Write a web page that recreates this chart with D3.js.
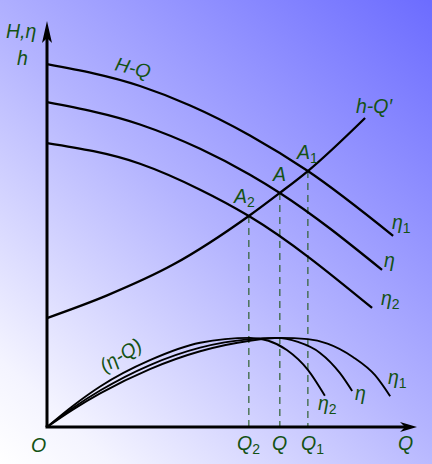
<!DOCTYPE html>
<html><head><meta charset="utf-8">
<script src="https://cdn.jsdelivr.net/npm/d3@7"></script>
<style>html,body{margin:0;padding:0;background:#fff}svg{display:block}</style>
</head><body>
<div id="chart"></div>
<script>
// Head curves H-Q at three speeds (Q, H)
const headEta1 = [[0,89.6],[25.2,84.2],[38.8,79.4],[55.0,72.0],[70.7,63.2],[93.8,47.2]];
const headEta  = [[0,80.2],[25.2,74.7],[41.5,68.7],[55.0,62.3],[63.1,57.8],[90.8,38.8]];
const headEta2 = [[0,70.1],[25.2,65.0],[41.5,58.6],[54.7,52.1],[88.1,29.4]];
// System curve h-Q'
const systemCurve = [[0,26.9],[16.3,32.5],[34.2,40.1],[54.7,52.1],[63.1,57.8],[70.7,63.2],[86.2,76.3]];
// Efficiency curves eta-Q
const effEta2 = [[0,0],[7.0,5.2],[14.4,10.0],[27.9,16.5],[41.5,20.8],[55.0,22.0],[60.0,21.3],[65.0,19.0],[70.7,14.1],[75.3,7.7]];
const effEta  = [[0,0],[7.0,4.7],[14.4,9.0],[27.9,15.3],[41.5,19.6],[55.0,21.7],[62.0,22.0],[68.0,21.0],[74.0,18.3],[79.4,13.3],[82.7,8.9]];
const effEta1 = [[0,0],[7.0,4.3],[14.4,8.3],[27.9,14.3],[41.5,18.7],[55.0,21.3],[63.1,22.0],[70.7,21.7],[76.0,20.6],[82.9,17.3],[88.9,12.8],[93.0,7.6]];
// Operating points
const opNames = ["A2","A","A1"];
const opQ = [54.7, 63.1, 70.7];
const opH = [52.1, 57.8, 63.2];
const qTickLabels = ["Q2","Q","Q1"];

const W = 432, H = 464;
const x = d3.scaleLinear().domain([0,100]).range([47,416]);
const y = d3.scaleLinear().domain([0,100]).range([427,22]);
const green = "#145214";

const svg = d3.select("#chart").append("svg").attr("width",W).attr("height",H);
const defs = svg.append("defs");
const grad = defs.append("linearGradient").attr("id","bg")
  .attr("gradientUnits","userSpaceOnUse")
  .attr("x1",0).attr("y1",H).attr("x2",W).attr("y2",0);
grad.append("stop").attr("offset","0").attr("stop-color","#ffffff");
grad.append("stop").attr("offset","0.12").attr("stop-color","#f4f4ff");
grad.append("stop").attr("offset","0.5").attr("stop-color","#b4b4ff");
grad.append("stop").attr("offset","1").attr("stop-color","#6c6cff");
svg.append("rect").attr("width",W).attr("height",H).attr("fill","url(#bg)");

const line = d3.line().x(d=>x(d[0])).y(d=>y(d[1])).curve(d3.curveMonotoneX);

// dashed drop lines
opQ.forEach((q,i)=>{
  svg.append("line").attr("x1",x(q)).attr("x2",x(q)).attr("y1",y(opH[i])).attr("y2",y(0))
    .attr("stroke","#2f5f2f").attr("stroke-width",1.2).attr("stroke-dasharray","7,5");
});

[headEta1, headEta, headEta2, systemCurve].forEach(d=>{
  svg.append("path").attr("d",line(d)).attr("fill","none").attr("stroke","#000").attr("stroke-width",2.3);
});
[effEta2, effEta, effEta1].forEach(d=>{
  svg.append("path").attr("d",line(d)).attr("fill","none").attr("stroke","#000").attr("stroke-width",1.9);
});

// axes
svg.append("line").attr("x1",x(0)).attr("y1",y(0)).attr("x2",x(0)).attr("y2",36).attr("stroke","#000").attr("stroke-width",3);
svg.append("line").attr("x1",x(0)-1.5).attr("y1",y(0)).attr("x2",406).attr("y2",y(0)).attr("stroke","#000").attr("stroke-width",3);
svg.append("path").attr("d","M47,21 L52,43 L47,38 L42,43 Z").attr("fill","#000");
svg.append("path").attr("d","M417,427 L400,432 L405,427 L400,422 Z").attr("fill","#000");

// labels
const font = "'Liberation Sans', Arial, sans-serif";
function label(txt, sub, px, py, opts={}){
  const t = svg.append("text").attr("x",px).attr("y",py)
    .attr("fill",green).attr("font-family",font).attr("font-size",opts.size||19.5)
    .attr("font-style","italic");
  if(opts.rotate) t.attr("transform",`rotate(${opts.rotate},${px},${py})`);
  t.append("tspan").text(txt);
  if(sub) t.append("tspan").attr("font-size",14).attr("font-style","normal").attr("dy",4).text(sub);
  return t;
}
label("H,η", null, 6, 38);
label("h", null, 17, 65);
label("H-Q", null, 114, 70, {rotate:14});
label("h-Q′", null, 356, 113);
label("A", "1", 297, 159);
label("A", null, 273, 181);
label("A", "2", 234, 203);
label("η", "1", 392, 229);
label("η", null, 384, 267);
label("η", "2", 381, 305);
label("(η-Q)", null, 105, 373, {rotate:-32});
label("η", "2", 318, 410);
label("η", null, 355, 400);
label("η", "1", 388, 384);
label("O", null, 31, 452);
label("Q", "2", 237, 450);
label("Q", null, 272, 450);
label("Q", "1", 301, 450);
label("Q", null, 398, 450);
</script>
</body></html>
